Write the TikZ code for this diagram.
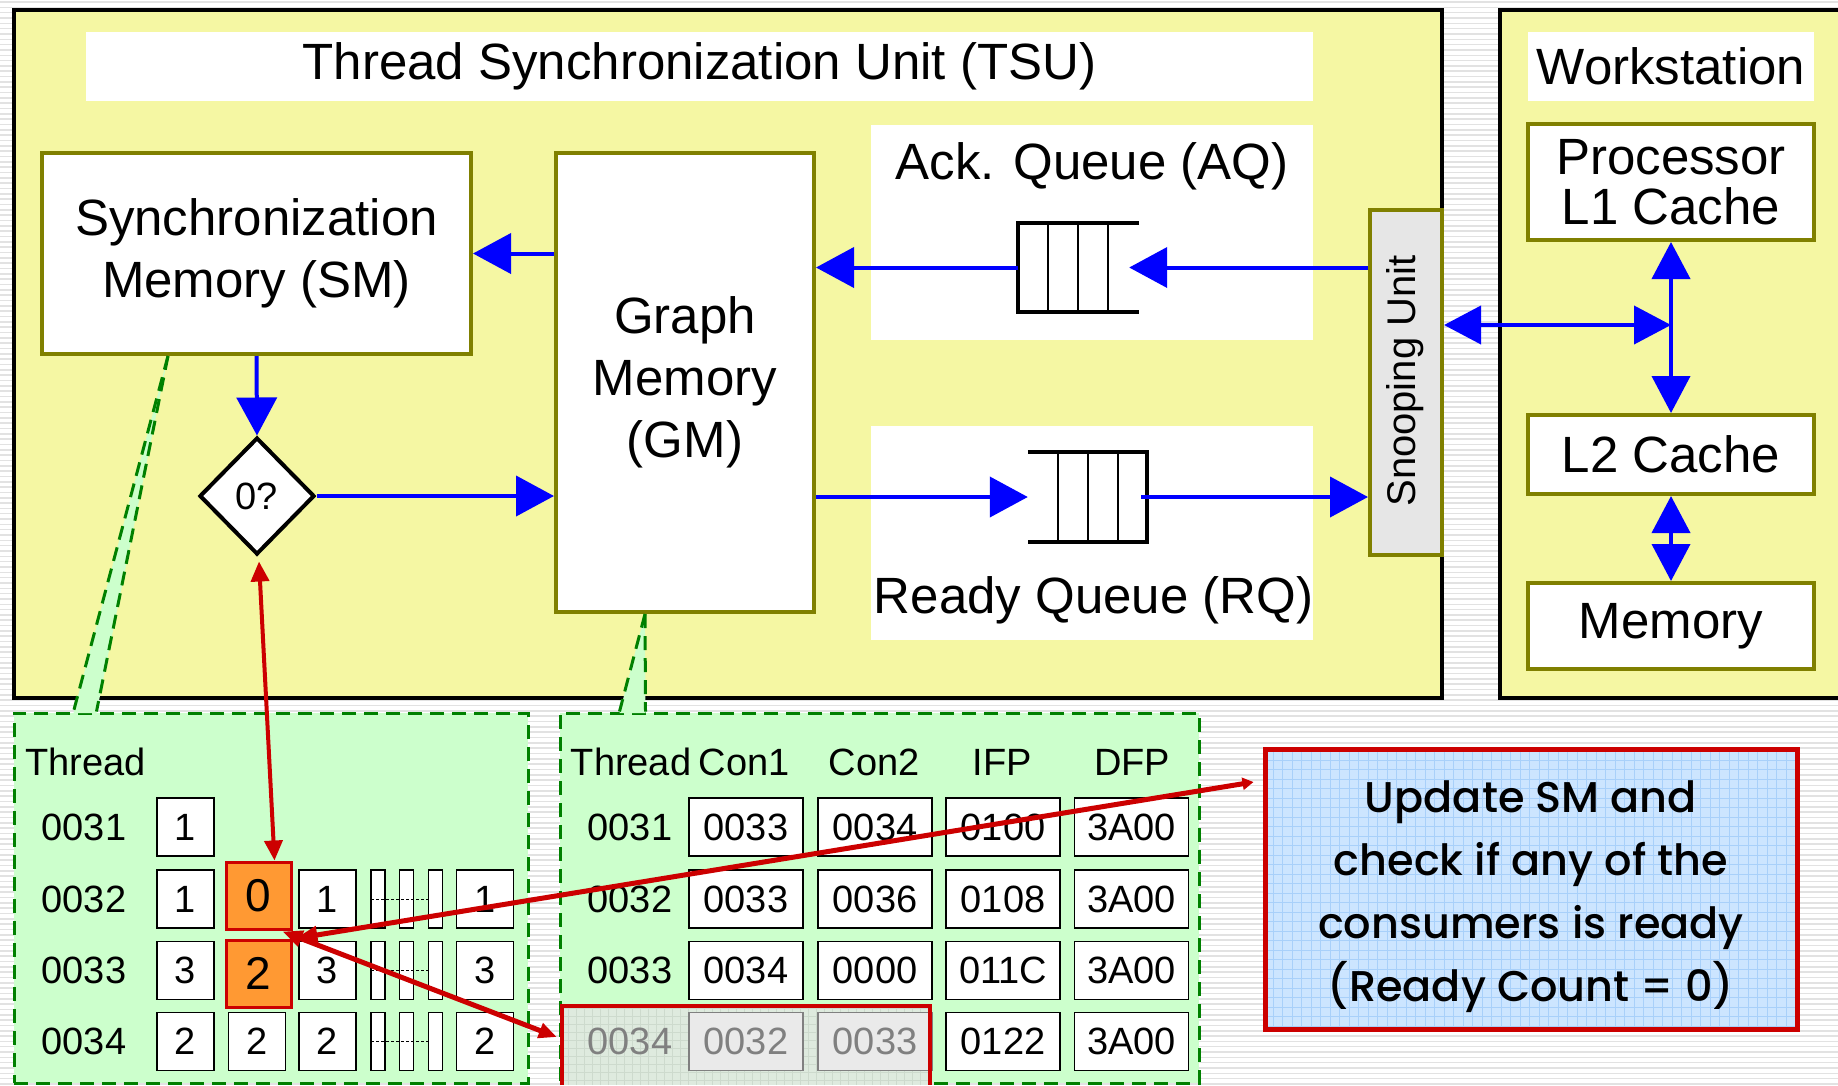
\documentclass[tikz,border=0pt]{standalone}
\usepackage{fontspec}
\setmainfont{Liberation Sans}
\newfontfamily\handfont{Poppins}[UprightFont=* Medium]
\usetikzlibrary{arrows.meta,shapes.geometric,calc}

\definecolor{tsuyellow}{RGB}{245,247,163}
\definecolor{boxolive}{RGB}{128,128,0}
\definecolor{tblgreen}{RGB}{204,255,204}
\definecolor{dashgreen}{RGB}{0,128,0}
\definecolor{arrred}{RGB}{204,0,0}
\definecolor{cellorange}{RGB}{255,153,51}
\definecolor{noteblue}{RGB}{204,229,255}
\definecolor{gridblue}{RGB}{168,208,250}
\definecolor{snoopgray}{RGB}{230,230,230}
\definecolor{stripe}{RGB}{226,226,226}
\definecolor{fadetxt}{RGB}{128,128,128}
\definecolor{hlfill}{RGB}{222,234,222}
\definecolor{hlgrid}{RGB}{205,218,205}
\definecolor{fadecell}{RGB}{234,234,234}

\tikzset{
  bigfont/.style={font=\fontsize{51}{62}\selectfont},
  lbl/.style={bigfont, align=center, inner sep=0pt},
  panel/.style={fill=white, inner sep=0pt, bigfont},
  olivebox/.style={draw=boxolive, line width=4pt, fill=white, inner sep=0pt, align=center, bigfont},
  bluearr/.style={draw=blue, line width=4pt, -{Triangle[length=38pt,width=40pt]}},
  bluedbl/.style={draw=blue, line width=4pt, {Triangle[length=37pt,width=38pt]}-{Triangle[length=37pt,width=38pt]}},
  redarr/.style={draw=arrred, line width=4pt, {Triangle[length=20pt,width=18pt]}-{Triangle[length=20pt,width=18pt]}},
  redlong/.style={draw=arrred, line width=5pt, {Triangle[length=22pt,width=17pt]}-{Triangle[length=11pt,width=12pt]}},
  redmid/.style={draw=arrred, line width=5pt, {Triangle[length=20pt,width=16pt]}-{Triangle[length=18pt,width=15pt]}},
  tbltxt/.style={font=\fontsize{38}{44}\selectfont, inner sep=0pt},
  cellbox/.style={draw=black, line width=1.5pt, fill=white, inner sep=0pt, font=\fontsize{38}{44}\selectfont},
  smcell/.style={cellbox, minimum width=57pt, minimum height=58pt},
  gmcell/.style={cellbox, minimum width=114pt, minimum height=58pt},
  fadedcell/.style={draw=fadetxt, line width=1.5pt, fill=fadecell, inner sep=0pt, minimum width=114pt, minimum height=58pt, text=fadetxt, font=\fontsize{38}{44}\selectfont},
  orangecell/.style={draw=arrred, line width=3pt, fill=cellorange, inner sep=0pt, minimum width=65pt, minimum height=67pt, font=\fontsize{46}{52}\selectfont},
  barcell/.style={draw=black, line width=1.5pt, fill=white, inner sep=0pt, minimum width=14pt, minimum height=58pt},
  greenbox/.style={draw=dashgreen, line width=3pt, dash pattern=on 14pt off 8pt, fill=tblgreen, inner sep=0pt},
  wedgeline/.style={draw=dashgreen, line width=3pt, dash pattern=on 14pt off 8pt},
}

\begin{document}
\begin{tikzpicture}[x=1pt,y=-1pt]
\useasboundingbox (0,0) rectangle (1838,1085);

% striped page background
\fill[white] (0,0) rectangle (1838,1085);
\foreach \k in {0,...,203} {\draw[stripe,line width=1.6pt] (0,{2+\k*5.33}) -- (1838,{2+\k*5.33});}

% TSU and workstation frames
\node[draw=black, line width=4pt, fill=tsuyellow, minimum width=1428pt, minimum height=688pt, inner sep=0pt] (tsu) at (728,354) {};
\fill[tsuyellow] (1500,10) rectangle (1838,698);
\draw[line width=4pt] (1838,10) -- (1500,10) -- (1500,698) -- (1838,698);

% white panels and titles
\node[panel, minimum width=1227pt, minimum height=69pt] (title) at (699.5,66.5) {Thread Synchronization Unit (TSU)};
\node[panel, minimum width=442pt, minimum height=215pt] (aqp) at (1092,232.5) {};
\node[lbl] (aqt) at (1092,166) {Ack. Queue (AQ)};
\node[panel, minimum width=442pt, minimum height=214pt] (rqp) at (1092,533) {};
\node[lbl] (rqt) at (1093.5,600) {Ready Queue (RQ)};
\node[panel, minimum width=286pt, minimum height=69pt] (wst) at (1671,66.5) {Workstation};

% main blocks
\node[olivebox, minimum width=429pt, minimum height=201pt] (sm) at (256.5,253.5) {Synchronization\\Memory (SM)};
\node[olivebox, minimum width=258pt, minimum height=459pt] (gm) at (685,382.5) {Graph\\Memory\\(GM)};
\node[draw=boxolive, line width=4pt, fill=snoopgray, minimum width=72pt, minimum height=345pt, inner sep=0pt] (snoop) at (1406,382.5) {};
\node[rotate=90, font=\fontsize{40}{48}\selectfont, inner sep=0pt] (snoopt) at (1405,381) {Snooping Unit};
\node[olivebox, minimum width=286pt, minimum height=116pt, font=\fontsize{51}{50}\selectfont] (proc) at (1671,182) {Processor\\L1 Cache};
\node[olivebox, minimum width=286pt, minimum height=79pt] (l2) at (1671,454.5) {L2 Cache};
\node[olivebox, minimum width=286pt, minimum height=86pt] (mem) at (1671,626) {Memory};

% zero test
\node[diamond, draw=black, line width=4pt, fill=white, minimum width=115pt, minimum height=117pt, inner sep=0pt, font=\fontsize{38}{44}\selectfont] (dia) at (257,496) {0?};

% queues
\node[minimum width=121pt, minimum height=89pt, inner sep=0pt] (aqq) at (1078.5,267.5) {};
\draw[line width=4pt] (aqq.north east) -- (aqq.north west) -- (aqq.south west) -- (aqq.south east);
\foreach \dx in {30,60,90} {\draw[line width=1.5pt] ($(aqq.north west)+(\dx,0)$) -- ($(aqq.south west)+(\dx,0)$);}
\node[minimum width=119pt, minimum height=90pt, inner sep=0pt] (rqq) at (1087.5,497) {};
\draw[line width=4pt] (rqq.north west) -- (rqq.north east) -- (rqq.south east) -- (rqq.south west);
\foreach \dx in {30,60,90} {\draw[line width=1.5pt] ($(rqq.north west)+(\dx,0)$) -- ($(rqq.south west)+(\dx,0)$);}

% data paths
\coordinate (bus) at (1671,325);
\draw[bluearr] (gm.west |- sm.east) -- (sm.east);
\draw[bluearr] (sm.south) -- (dia.north);
\draw[bluearr] (dia.east) -- (gm.west |- dia.east);
\draw[bluearr] (aqq.west) -- (gm.east |- aqq.west);
\draw[bluearr] (snoop.west |- aqq.east) -- ($(aqq.east)+(-10,0)$);
\draw[bluearr] (gm.east |- rqq.west) -- (rqq.west);
\draw[bluearr] ($(rqq.east)+(-6,0)$) -- (snoop.west |- rqq.east);
\draw[bluedbl] (snoop.east |- bus) -- (bus);
\draw[bluedbl] (proc.south) -- (l2.north);
\draw[bluedbl] (l2.south) -- (mem.north);

% detail tables
\node[greenbox, minimum width=514pt, minimum height=370pt] (smt) at (271,898) {};
\node[greenbox, minimum width=639pt, minimum height=370pt] (gmt) at (879.5,898) {};
\fill[tblgreen] ($(sm.south west)+(128,0)$) -- ($(smt.north west)+(61,1.6)$) -- ($(smt.north west)+(84,1.6)$) -- cycle;
\draw[wedgeline] ($(sm.south west)+(128,0)$) -- ($(smt.north west)+(61,0)$);
\draw[wedgeline] ($(sm.south west)+(128,0)$) -- ($(smt.north west)+(84,0)$);
\fill[tblgreen] ($(gm.south west)+(91,0)$) -- ($(gmt.north west)+(61,1.6)$) -- ($(gmt.north west)+(87,1.6)$) -- cycle;
\draw[wedgeline] ($(gm.south west)+(91,0)$) -- ($(gmt.north west)+(61,0)$);
\draw[wedgeline] ($(gm.south west)+(91,0)$) -- ($(gmt.north west)+(87,0)$);

% synchronization memory contents
\node[tbltxt, anchor=west] (smh) at (25,762) {Thread};
\node[tbltxt] (sr1) at (84,827) {0031};
\node[tbltxt] (sr2) at (84,899) {0032};
\node[tbltxt] (sr3) at (84,970.5) {0033};
\node[tbltxt] (sr4) at (84,1041.5) {0034};
\node[smcell] (s11) at (185.5,827) {1};
\node[smcell] (s21) at (185.5,899) {1};
\node[smcell] (s23) at (327.5,899) {1};
\node[smcell] (s2l) at (485,899) {1};
\node[smcell] (s31) at (185.5,970.5) {3};
\node[smcell] (s33) at (327.5,970.5) {3};
\node[smcell] (s3l) at (485,970.5) {3};
\node[smcell] (s41) at (185.5,1041.5) {2};
\node[smcell] (s42) at (257,1041.5) {2};
\node[smcell] (s43) at (327.5,1041.5) {2};
\node[smcell] (s4l) at (485,1041.5) {2};
\foreach \by in {899,970.5,1041.5} {
  \foreach \bx in {378,406.5,435.5} {\node[barcell] at (\bx,\by) {};}
  \draw[line width=0.8pt, dash pattern=on 3pt off 2pt] (371,\by) -- (428,\by);
}
\node[orangecell] (o0) at (258.5,895.5) {0};
\node[orangecell] (o2) at (258.5,973.5) {2};

% graph memory contents
\node[tbltxt] (gh1) at (631,762) {Thread};
\node[tbltxt] (gh2) at (744,762) {Con1};
\node[tbltxt] (gh3) at (874,762) {Con2};
\node[tbltxt] (gh4) at (1002,762) {IFP};
\node[tbltxt] (gh5) at (1132,762) {DFP};
\node[tbltxt] (gr1) at (630,827) {0031};
\node[gmcell] (g1a) at (746,827) {0033};
\node[gmcell] (g1b) at (875,827) {0034};
\node[gmcell] (g1c) at (1003,827) {0100};
\node[gmcell] (g1d) at (1131.5,827) {3A00};
\node[tbltxt] (gr2) at (630,899) {0032};
\node[gmcell] (g2a) at (746,899) {0033};
\node[gmcell] (g2b) at (875,899) {0036};
\node[gmcell] (g2c) at (1003,899) {0108};
\node[gmcell] (g2d) at (1131.5,899) {3A00};
\node[tbltxt] (gr3) at (630,970.5) {0033};
\node[gmcell] (g3a) at (746,970.5) {0034};
\node[gmcell] (g3b) at (875,970.5) {0000};
\node[gmcell] (g3c) at (1003,970.5) {011C};
\node[gmcell] (g3d) at (1131.5,970.5) {3A00};
\node[gmcell] (g4c) at (1003,1041.5) {0122};
\node[gmcell] (g4d) at (1131.5,1041.5) {3A00};

% highlighted entry of thread 0034
\node[fill=hlfill, minimum width=368pt, minimum height=79pt, inner sep=0pt] (hl) at (746,1045.5) {};
\begin{scope}
  \clip (hl.north west) rectangle (hl.south east);
  \draw[hlgrid, line width=0.6pt, step=8pt] (hl.north west) grid (hl.south east);
\end{scope}
\node[tbltxt, text=fadetxt] (gr4) at (630,1041.5) {0034};
\node[fadedcell] (g4a) at (746,1041.5) {0032};
\node[fadedcell] (g4b) at (875,1041.5) {0033};
\draw[arrred, line width=4pt] (hl.south west) -- (hl.north west) -- (hl.north east) -- (hl.south east);

% note
\fill[noteblue] (1265,749) rectangle (1797,1029);
\begin{scope}
  \clip (1265,749) rectangle (1797,1029);
  \draw[gridblue, line width=0.6pt, step=9.5pt] (1265,749) grid (1797,1029);
\end{scope}
\node[draw=arrred, line width=5pt, minimum width=532pt, minimum height=280pt, inner sep=0pt] (note) at (1531,889) {};
\node[align=center, inner sep=0pt, font=\handfont\fontsize{43}{63}\selectfont] (notet) at (1531,897) {Update SM and\\check if any of the\\consumers is ready\\(Ready Count = 0)};

% update paths
\draw[redarr] ($(dia.south)+(2,5)$) -- ($(o0.north)+(16,0)$);
\draw[redlong] ($(o2.north east)+(3,0)$) -- ($(note.west)+(-9,-107)$);
\draw[redmid] ($(o0.south east)+(-10,1)$) -- ($(hl.west)+(-5,-8.5)$);

\end{tikzpicture}
\end{document}
